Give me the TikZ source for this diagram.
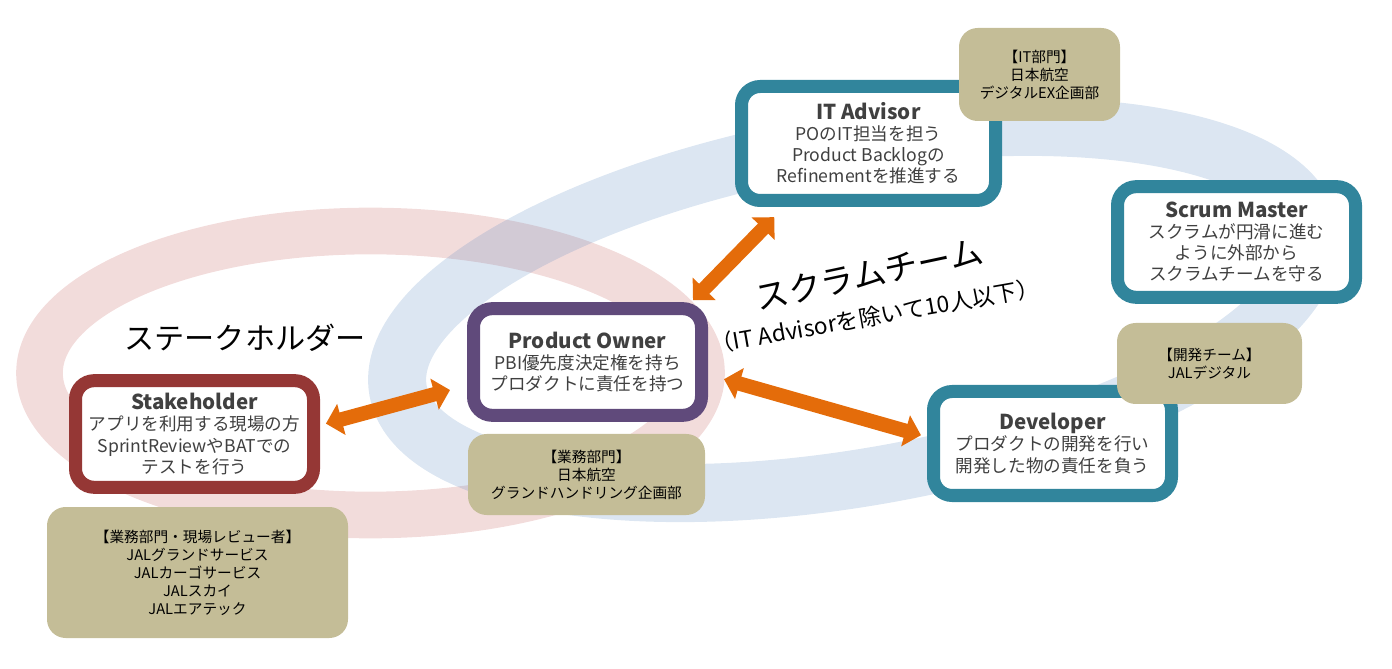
\documentclass[tikz,border=0pt]{standalone}
\usepackage{fontspec}
\setmainfont{Noto Sans CJK JP}
\usetikzlibrary{arrows.meta}
\definecolor{redring}{HTML}{C0504D}
\definecolor{bluering}{HTML}{4F81BD}
\definecolor{redline}{HTML}{953735}
\definecolor{purpleline}{HTML}{604A7B}
\definecolor{tealline}{HTML}{31859C}
\definecolor{tanfill}{HTML}{C4BD97}
\definecolor{arroworange}{HTML}{E46C0A}
\definecolor{bodygray}{HTML}{404040}
\newcommand{\rolename}[1]{{\fontsize{15.4}{16}\selectfont\bfseries #1}}

\begin{document}
\begin{tikzpicture}[x=0.75pt,y=0.75pt]
\tikzset{ring/.style = {draw opacity=0.2}}
\tikzset{role/.style = {shape=rectangle,draw,fill=white,line width=9.75pt,rounded corners=14pt,align=center,text=bodygray,inner sep=0pt,font=\fontsize{13.2}{15.8}\selectfont}}
\tikzset{dept/.style = {shape=rectangle,fill=tanfill,rounded corners=14pt,align=center,text=black,inner sep=0pt,font=\fontsize{11}{13.5}\selectfont}}
\tikzset{edge/.style = {<->,>={Triangle[width=23.5pt,length=12pt]},line width=10.8pt,arroworange}}
\useasboundingbox (0,0) rectangle (1392,668);
\draw[ring,redring,line width=35pt] (370.5,295) circle [x radius=331,y radius=142];
\draw[ring,bluering,line width=43.5pt] (854,358) circle [x radius=463,y radius=167,rotate=10];
\node[role,draw=redline,minimum width=178.5pt,minimum height=80pt] (stake) at (194.5,234) {\rolename{Stakeholder}\\アプリを利用する現場の方\\SprintReviewやBATでの\\テストを行う};
\node[role,draw=purpleline,minimum width=171pt,minimum height=80pt] (po) at (587.5,306) {\rolename{Product Owner}\\PBI優先度決定権を持ち\\プロダクトに責任を持つ};
\node[role,draw=tealline,minimum width=190.5pt,minimum height=85.5pt] (it) at (868.5,524.5) {\rolename{IT Advisor}\\POのIT担当を担う\\Product Backlogの\\Refinementを推進する};
\node[role,draw=tealline,minimum width=178.5pt,minimum height=83pt] (sm) at (1236.5,426) {\rolename{Scrum Master}\\スクラムが円滑に進む\\ように外部から\\スクラムチームを守る};
\node[role,draw=tealline,minimum width=178.5pt,minimum height=78pt] (dev) at (1052.5,224.5) {\rolename{Developer}\\プロダクトの開発を行い\\開発した物の責任を負う};
\node[dept,minimum width=120.75pt,minimum height=69.75pt] (itdept) at (1039.5,593.5) {【IT部門】\\日本航空\\デジタルEX企画部};
\node[dept,minimum width=177.75pt,minimum height=60.75pt] (podept) at (586.5,193.5) {【業務部門】\\日本航空\\グランドハンドリング企画部};
\node[dept,minimum width=225.75pt,minimum height=98.25pt] (stakedept) at (197.5,095.5) {【業務部門・現場レビュー者】\\JALグランドサービス\\JALカーゴサービス\\JALスカイ\\JALエアテック};
\node[dept,minimum width=138.75pt,minimum height=60.75pt] (devdept) at (1209.5,304.5) {【開発チーム】\\JALデジタル};
\node[font=\fontsize{22.6}{24}\selectfont,inner sep=0pt] (stakelabel) at (245,330) {ステークホルダー};
\node[font=\fontsize{25}{27}\selectfont,inner sep=0pt,rotate=12] (teamlabel) at (869,394) {スクラムチーム};
\node[font=\fontsize{17}{18}\selectfont,inner sep=0pt,rotate=10] (teamnote) at (875,352) {（IT Advisorを除いて10人以下）};
\draw[edge,shorten <=2pt,shorten >=10.7pt] (po.30) to (it.217);
\draw[edge,shorten <=4.6pt,shorten >=13.2pt] (stake.4.8) to (po.191);
\draw[edge,shorten <=12.5pt,shorten >=4.7pt] (po.-6.3) to (dev.177.8);
\end{tikzpicture}
\end{document}
